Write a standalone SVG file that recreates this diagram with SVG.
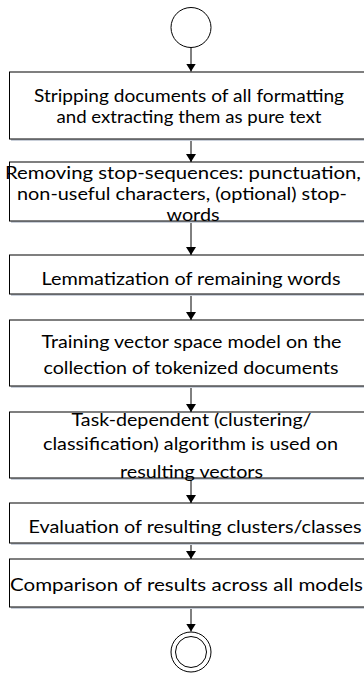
<svg xmlns="http://www.w3.org/2000/svg" width="364" height="673" viewBox="0 0 364 673">
<style>
.box{fill:#fff;stroke:#000;stroke-width:1}
.shadow{fill:#c9cfd9}
.t{font-family:Lato,"Liberation Sans",sans-serif;font-size:18px;fill:#000;text-anchor:middle}
.c{fill:#fff;stroke:#000;stroke-width:1}
.e{stroke:#000;stroke-width:1;fill:none;marker-end:url(#ah)}
</style>
<defs>
<marker id="ah" viewBox="0 0 8 10" refX="8" refY="5" markerWidth="8" markerHeight="10" markerUnits="userSpaceOnUse" orient="auto-start-reverse">
<path d="M0,0 L8,5 L0,10 Z" fill="#000" transform="rotate(0)"/>
</marker>
</defs>
<rect width="364" height="673" fill="#fff"/>
<g id="connectors">
<line class="e" x1="191" y1="47.5" x2="191" y2="71.5"/>
<line class="e" x1="191" y1="139" x2="191" y2="162"/>
<line class="e" x1="191" y1="221" x2="191" y2="255"/>
<line class="e" x1="191" y1="294" x2="191" y2="320"/>
<line class="e" x1="191" y1="386" x2="191" y2="412"/>
<line class="e" x1="191" y1="478" x2="191" y2="503"/>
<line class="e" x1="191" y1="543" x2="191" y2="559"/>
<line class="e" x1="191" y1="607" x2="191" y2="631.5"/>
</g>
<g id="start">
<circle class="c" cx="191" cy="27.5" r="20"/>
</g>
<g id="n1">
<rect class="shadow" x="11" y="74" width="364" height="67"/>
<rect class="box" x="9.5" y="72" width="364" height="67"/>
<text class="t" x="189" y="101.5" textLength="310" lengthAdjust="spacingAndGlyphs">Stripping documents of all formatting</text>
<text class="t" x="189" y="123" textLength="265" lengthAdjust="spacingAndGlyphs">and extracting them as pure text</text>
</g>
<g id="n2">
<rect class="shadow" x="11" y="164" width="364" height="59"/>
<rect class="box" x="9.5" y="162" width="364" height="59"/>
<text class="t" x="183" y="179" textLength="356" lengthAdjust="spacingAndGlyphs">Removing stop-sequences: punctuation,</text>
<text class="t" x="182" y="200" textLength="330" lengthAdjust="spacingAndGlyphs">non-useful characters, (optional) stop-</text>
<text class="t" x="193" y="221" textLength="53" lengthAdjust="spacingAndGlyphs">words</text>
</g>
<g id="n3">
<rect class="shadow" x="11" y="257" width="364" height="39"/>
<rect class="box" x="9.5" y="255" width="364" height="39"/>
<text class="t" x="191" y="285" textLength="299" lengthAdjust="spacingAndGlyphs">Lemmatization of remaining words</text>
</g>
<g id="n4">
<rect class="shadow" x="11" y="322" width="364" height="66"/>
<rect class="box" x="9.5" y="320" width="364" height="66"/>
<text class="t" x="191.5" y="348" textLength="300" lengthAdjust="spacingAndGlyphs">Training vector space model on the</text>
<text class="t" x="191" y="374" textLength="295" lengthAdjust="spacingAndGlyphs">collection of tokenized documents</text>
</g>
<g id="n5">
<rect class="shadow" x="11" y="414" width="364" height="66"/>
<rect class="box" x="9.5" y="412" width="364" height="66"/>
<text class="t" x="191.5" y="426" textLength="240" lengthAdjust="spacingAndGlyphs">Task-dependent (clustering/</text>
<text class="t" x="190.5" y="450" textLength="295" lengthAdjust="spacingAndGlyphs">classification) algorithm is used on</text>
<text class="t" x="191.5" y="478" textLength="143" lengthAdjust="spacingAndGlyphs">resulting vectors</text>
</g>
<g id="n6">
<rect class="shadow" x="11" y="505" width="364" height="40"/>
<rect class="box" x="9.5" y="503" width="364" height="40"/>
<text class="t" x="195" y="533" textLength="333" lengthAdjust="spacingAndGlyphs">Evaluation of resulting clusters/classes</text>
</g>
<g id="n7">
<rect class="shadow" x="11" y="561" width="364" height="48"/>
<rect class="box" x="9.5" y="559" width="364" height="48"/>
<text class="t" x="186.5" y="591" textLength="353" lengthAdjust="spacingAndGlyphs">Comparison of results across all models</text>
</g>
<g id="end">
<circle class="c" cx="191" cy="652" r="20"/>
<circle class="c" cx="191" cy="652" r="15.5"/>
</g>
</svg>
